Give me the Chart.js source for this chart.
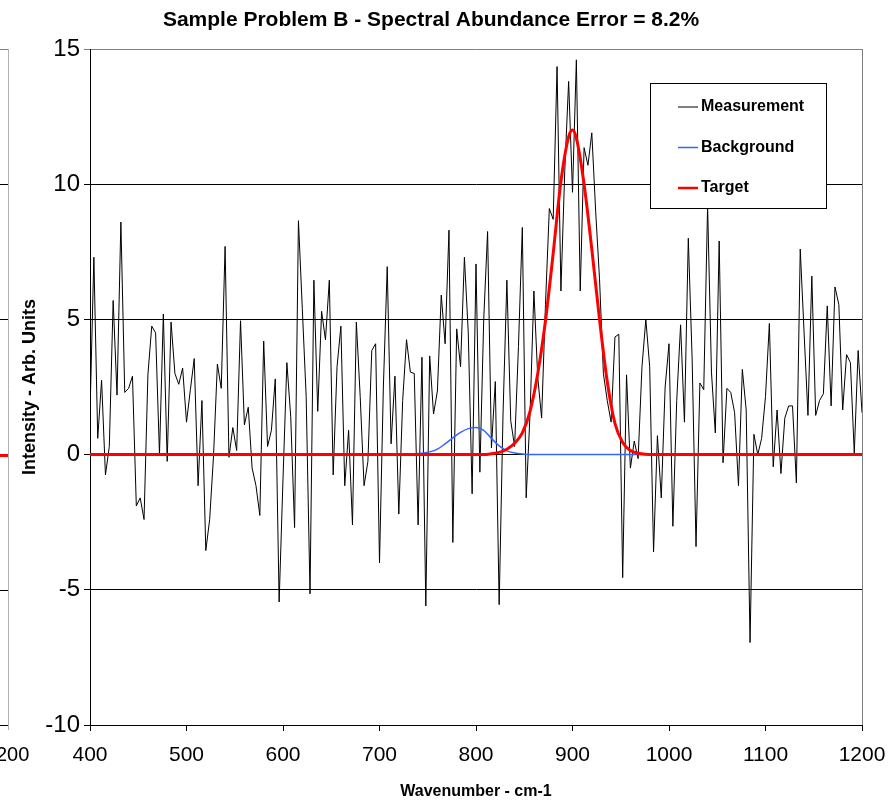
<!DOCTYPE html>
<html>
<head>
<meta charset="utf-8">
<title>Sample Problem B</title>
<script src="https://cdn.jsdelivr.net/npm/chart.js@4.4.1/dist/chart.umd.min.js"></script>
<style>
  html, body { margin: 0; padding: 0; background: #fff; }
  canvas { display: block; }
</style>
</head>
<body>
<canvas id="myChart" width="889" height="801"></canvas>
<script>
// wavenumber grid of the measurement (cm-1)
var waveStart = 400;
var waveStep = 4;

// measured intensity, one value per wavenumber step
var measurement = [
  1.5, 7.3, 0.6, 2.75, -0.75, 0.3, 5.7, 2.2, 8.6, 2.3,
  2.45, 2.9, -1.9, -1.6, -2.4, 2.95, 4.75, 4.5, 0, 5.2,
  -0.25, 4.9, 3.0, 2.6, 3.2, 1.2, 2.4, 3.55, -1.15, 2.0,
  -3.55, -2.4, -0.05, 3.35, 2.45, 7.7, -0.1, 1.0, 0.15, 4.95,
  1.1, 1.75, -0.5, -1.15, -2.25, 4.2, 0.3, 0.9, 2.8, -5.45,
  -0.9, 3.4, 1.4, -2.7, 8.65, 5.4, 2.15, -5.15, 6.45, 1.6,
  5.3, 4.25, 6.45, -0.75, 3.25, 4.75, -1.15, 0.9, -2.6, 4.9,
  2.15, -1.15, -0.25, 3.85, 4.1, -4.0, 2.5, 6.95, 0.4, 2.9,
  -2.2, 2.0, 4.25, 3.05, 3.0, -2.6, 3.6, -5.6, 3.65, 1.5,
  2.35, 5.9, 4.1, 8.3, -3.25, 4.65, 3.25, 7.3, 4.5, -1.45,
  7.05, -0.65, 5.0, 8.25, 0.25, 2.7, -5.55, 1.5, 6.45, 1.25,
  0.3, 4.0, 8.4, -1.6, 1.5, 6.05, 2.85, 1.35, 5.55, 9.1,
  8.7, 14.35, 6.05, 10.5, 13.8, 9.7, 14.6, 6.05, 11.35, 10.7,
  11.9, 9.0, 6.5, 3.0, 2.0, 1.2, 4.35, 4.45, -4.55, 2.95,
  -0.5, 0.5, -0.15, 3.25, 5.0, 3.25, -3.6, 0.7, -1.6, 2.5,
  4.1, -2.65, 2.0, 4.8, 1.2, 8.0, 3.5, -3.4, 2.65, 2.4,
  9.2, 3.05, 0.8, 7.9, -0.3, 2.45, 2.3, 1.55, -1.15, 3.15,
  1.65, -6.95, 0.75, 0.0, 0.6, 2.15, 4.85, -0.45, 1.65, -0.7,
  1.35, 1.8, 1.8, -1.05, 7.6, 4.5, 1.45, 6.6, 1.45, 2.0,
  2.25, 5.5, 1.8, 6.2, 5.55, 1.65, 3.7, 3.4, 0.05, 3.85,
  1.55
];

// background component
var backgroundWave = [400, 720, 740, 752, 760, 768, 776, 784, 792, 800, 808, 816, 824, 832, 840, 848, 860, 1200];
var backgroundValues = [0, 0, 0.04, 0.1, 0.2, 0.4, 0.62, 0.82, 0.96, 1.0, 0.9, 0.6, 0.32, 0.14, 0.06, 0.02, 0, 0];

// target component
var targetWave = [400, 808, 816, 824, 832, 840, 848, 856, 864, 872, 880, 888, 896, 900, 904, 912, 920, 928, 936, 944, 952, 960, 968, 984, 1200];
var targetValues = [0, 0, 0.03, 0.08, 0.2, 0.42, 0.8, 1.6, 3.0, 4.95, 7.45, 10.1, 11.75, 12.0, 11.7, 10.0, 7.6, 5.0, 2.7, 1.15, 0.45, 0.15, 0.05, 0, 0];

var yTicks = [-10, -5, 0, 5, 10, 15];

var fontFamily = '"Liberation Sans", Arial, sans-serif';

function toPoints(xs, ys) {
  return ys.map(function (v, i) { return { x: xs[i], y: v }; });
}

var measurementWave = measurement.map(function (v, i) { return waveStart + i * waveStep; });

// draws the boxed legend, the right frame and the cropped edge of the panel to the left
var framePlugin = {
  id: 'frameAndLegend',
  afterDatasetsDraw: function (chart) {
    var ctx = chart.ctx, area = chart.chartArea;
    ctx.save();
    ctx.lineWidth = 1;
    ctx.strokeStyle = '#808080';
    ctx.beginPath();
    ctx.moveTo(area.right + 0.5, area.top);
    ctx.lineTo(area.right + 0.5, area.bottom);
    ctx.stroke();

    var left = area.left + 560, top = area.top + 34, w = 176, h = 125;
    ctx.fillStyle = '#fff';
    ctx.fillRect(left, top, w, h);
    ctx.strokeStyle = '#000';
    ctx.strokeRect(left + 0.5, top + 0.5, w, h);
    chart.data.datasets.forEach(function (ds, i) {
      var ly = top + 24 + i * 40.5;
      ctx.strokeStyle = ds.borderColor;
      ctx.lineWidth = Math.min(ds.borderWidth, 2.5);
      ctx.beginPath();
      ctx.moveTo(left + 28, ly);
      ctx.lineTo(left + 48, ly);
      ctx.stroke();
      ctx.fillStyle = '#000';
      ctx.font = 'bold 16px ' + fontFamily;
      ctx.textBaseline = 'middle';
      ctx.textAlign = 'left';
      ctx.fillText(ds.label, left + 51, ly);
    });
    ctx.restore();
  },
  afterDraw: function (chart) {
    var ctx = chart.ctx, area = chart.chartArea, ys = chart.scales.y;
    var edge = area.left - 82;
    ctx.save();
    ctx.lineWidth = 1;
    ctx.strokeStyle = '#b0b0b0';
    ctx.beginPath();
    ctx.moveTo(edge + 0.5, area.top);
    ctx.lineTo(edge + 0.5, area.bottom + 5);
    ctx.stroke();
    yTicks.forEach(function (t) {
      var py = Math.round(ys.getPixelForValue(t)) + 0.5;
      ctx.strokeStyle = t === 0 ? '#ff0000' : (t === 15 ? '#808080' : '#000');
      ctx.lineWidth = t === 0 ? 3 : 1;
      ctx.beginPath();
      ctx.moveTo(0, py);
      ctx.lineTo(edge, py);
      ctx.stroke();
    });
    ctx.fillStyle = '#000';
    ctx.font = '20px ' + fontFamily;
    ctx.textAlign = 'left';
    ctx.textBaseline = 'middle';
    ctx.fillText('200', -4, area.bottom + 30);
    ctx.restore();
  }
};

var ctx = document.getElementById('myChart').getContext('2d');
Chart.defaults.font.family = fontFamily;
Chart.defaults.color = '#000';

var myChart = new Chart(ctx, {
  type: 'line',
  data: {
    datasets: [{
      label: 'Measurement',
      data: toPoints(measurementWave, measurement),
      borderColor: '#000000',
      borderWidth: 1,
      pointRadius: 0,
      tension: 0,
      order: 3
    }, {
      label: 'Background',
      data: toPoints(backgroundWave, backgroundValues),
      borderColor: '#3366ff',
      borderWidth: 1.5,
      pointRadius: 0,
      cubicInterpolationMode: 'monotone',
      order: 2
    }, {
      label: 'Target',
      data: toPoints(targetWave, targetValues),
      borderColor: '#ff0000',
      borderWidth: 3,
      pointRadius: 0,
      cubicInterpolationMode: 'monotone',
      order: 1
    }]
  },
  options: {
    responsive: false,
    animation: false,
    layout: { padding: { left: 0, right: 27, top: 0, bottom: 0 } },
    plugins: {
      legend: { display: false },
      tooltip: { enabled: false },
      title: {
        display: true,
        text: 'Sample Problem B - Spectral Abundance Error = 8.2%',
        font: { size: 21, weight: 'bold' },
        color: '#000',
        padding: { top: 8, bottom: 15.8 }
      }
    },
    scales: {
      x: {
        type: 'linear',
        min: 400,
        max: 1200,
        ticks: {
          stepSize: 100,
          font: { size: 21 },
          padding: 12,
          maxRotation: 0,
          callback: function (v) { return String(v); }
        },
        grid: { drawOnChartArea: false, drawTicks: true, tickLength: 6, color: '#000' },
        border: { color: '#000' },
        title: {
          display: true,
          text: 'Wavenumber - cm-1',
          font: { size: 16, weight: 'bold' },
          padding: { top: 0, bottom: 0 }
        },
        afterFit: function (scale) {
          scale.height = 76;
          scale.paddingLeft = 0;
          scale.paddingRight = 0;
        }
      },
      y: {
        min: -10,
        max: 15,
        ticks: { stepSize: 5, font: { size: 24 }, padding: 4 },
        grid: {
          tickLength: 6,
          color: function (c) { return c.tick && c.tick.value === 15 ? '#808080' : '#000'; }
        },
        border: { color: '#000' },
        title: {
          display: true,
          text: 'Intensity - Arb. Units',
          font: { size: 18, weight: 'bold' },
          padding: { top: 19, bottom: 0 }
        },
        afterFit: function (scale) { scale.width = 90; }
      }
    }
  },
  plugins: [framePlugin]
});
</script>
</body>
</html>
